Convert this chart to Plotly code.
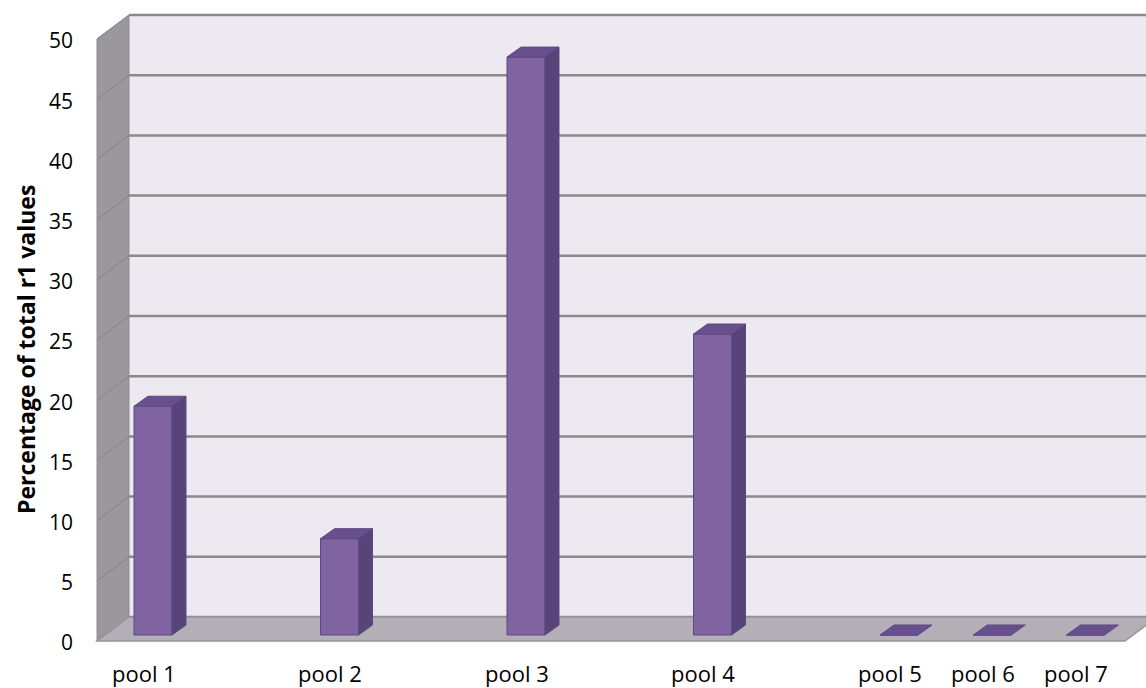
import plotly.graph_objects as go

# ---------------- data ----------------
categories = ["pool 1", "pool 2", "pool 3", "pool 4", "pool 5", "pool 6", "pool 7"]
values = [19, 8, 48, 25, 0, 0, 0]
y_ticks = [0, 5, 10, 15, 20, 25, 30, 35, 40, 45, 50]
y_title = "Percentage of total r1 values"

# ---------------- layout constants (positions / styles) ----------------
W, H = 1146, 688
PLOT_L = 80
slots = [0, 2, 4, 6, 8, 9, 10]          # category slot positions on the floor
X0_PX, SLOT_PX = 153.0, 93.25           # pixel of slot 0 centre, pixels per slot
Y0_PX, UNIT_PX = 635.0, 12.04           # pixel of value 0 (bar front plane), pixels per unit
BAR_W = 38 / SLOT_PX
DX, DY = 14 / SLOT_PX, 10 / UNIT_PX     # bar depth offset
Y_MAX = 50

x_range = [(PLOT_L - X0_PX) / SLOT_PX, (W - X0_PX) / SLOT_PX]
y_range = [(Y0_PX - H) / UNIT_PX, Y0_PX / UNIT_PX]

# wall / floor geometry (in axis units)
FRONT_DY = -6 / UNIT_PX      # floor front edge relative to bar plane
BACK_DY = 18 / UNIT_PX       # back wall base relative to bar plane
SIDE_XF = (97 - X0_PX) / SLOT_PX
SIDE_XB = (129 - X0_PX) / SLOT_PX
FLOOR_XF = (1125 - X0_PX) / SLOT_PX
FLOOR_XB = (1157 - X0_PX) / SLOT_PX

FONT = "Open Sans"
BACK_COL = "#ECE9F1"
SIDE_COL = "#9A989D"
FLOOR_COL = "#B4AFB6"
GRID_COL = "#8A8A8A"
BAR_FRONT = "#8064A2"
BAR_SIDE = "#574479"
BAR_TOP = "#67508D"
BAR_LINE = "#5C4885"

fig = go.Figure()

shapes = []
# back wall
shapes.append(dict(type="rect", xref="x", yref="y", x0=SIDE_XB, x1=FLOOR_XB,
                   y0=BACK_DY, y1=Y_MAX + BACK_DY, fillcolor=BACK_COL,
                   line=dict(width=0), layer="below"))
# side wall
shapes.append(dict(type="path", xref="x", yref="y",
                   path=f"M{SIDE_XF},{FRONT_DY} L{SIDE_XF},{Y_MAX + FRONT_DY} "
                        f"L{SIDE_XB},{Y_MAX + BACK_DY} L{SIDE_XB},{BACK_DY} Z",
                   fillcolor=SIDE_COL, line=dict(color="#8E8C90", width=1), layer="below"))
# gridlines
for v in y_ticks:
    shapes.append(dict(type="line", xref="x", yref="y", x0=SIDE_XB, x1=FLOOR_XB,
                       y0=v + BACK_DY, y1=v + BACK_DY,
                       line=dict(color=GRID_COL, width=2.5), layer="below"))
    shapes.append(dict(type="line", xref="x", yref="y", x0=SIDE_XF, x1=SIDE_XB,
                       y0=v + FRONT_DY, y1=v + BACK_DY,
                       line=dict(color="#858387", width=1), layer="below"))
# floor
shapes.append(dict(type="path", xref="x", yref="y",
                   path=f"M{SIDE_XF},{FRONT_DY} L{FLOOR_XF},{FRONT_DY} "
                        f"L{FLOOR_XB},{BACK_DY} L{SIDE_XB},{BACK_DY} Z",
                   fillcolor=FLOOR_COL, line=dict(color="#98949A", width=1.5), layer="below"))

# bar fronts
fig.add_trace(go.Bar(x=slots, y=values, width=BAR_W, base=0,
                     marker=dict(color=BAR_FRONT, line=dict(color=BAR_LINE, width=1)),
                     hoverinfo="skip", showlegend=False))

# bar sides and tops
sx, sy, tx, ty = [], [], [], []
for s, v in zip(slots, values):
    xl, xr = s - BAR_W / 2, s + BAR_W / 2
    if v > 0:
        sx += [xr, xr + DX, xr + DX, xr, xr, None]
        sy += [0, DY, v + DY, v, 0, None]
    tx += [xl, xl + DX, xr + DX, xr, xl, None]
    ty += [v, v + DY, v + DY, v, v, None]
fig.add_trace(go.Scatter(x=sx, y=sy, mode="lines", fill="toself", fillcolor=BAR_SIDE,
                         line=dict(color=BAR_LINE, width=1), hoverinfo="skip", showlegend=False))
fig.add_trace(go.Scatter(x=tx, y=ty, mode="lines", fill="toself", fillcolor=BAR_TOP,
                         line=dict(color=BAR_LINE, width=1), hoverinfo="skip", showlegend=False))

# invisible trace to activate tick-label axis
fig.add_trace(go.Scatter(x=[None], y=[None], yaxis="y2", showlegend=False, hoverinfo="skip"))

annotations = []
for s, c in zip(slots, categories):
    annotations.append(dict(x=s - 0.1, y=(H - 673) / H, xref="x", yref="paper",
                            text=c, showarrow=False, xanchor="center", yanchor="middle",
                            font=dict(family=FONT, size=22, color="black")))
annotations.append(dict(x=(26 - PLOT_L) / (W - PLOT_L), y=(H - 350) / H,
                        xref="paper", yref="paper", text=f"<b>{y_title}</b>",
                        textangle=-90, showarrow=False, xanchor="center", yanchor="middle",
                        font=dict(family=FONT, size=23, color="black")))

label_shift = 8 / UNIT_PX
fig.update_layout(
    width=W, height=H,
    margin=dict(l=PLOT_L, r=0, t=0, b=0),
    paper_bgcolor="white", plot_bgcolor="white",
    barmode="overlay",
    xaxis=dict(range=x_range, visible=False, fixedrange=True),
    yaxis=dict(range=y_range, visible=False, fixedrange=True),
    yaxis2=dict(range=[y_range[0] + label_shift, y_range[1] + label_shift],
                overlaying="y", side="left", showgrid=False, zeroline=False,
                showline=False, ticks="", tickvals=y_ticks,
                ticktext=[str(t) for t in y_ticks], ticklabelstandoff=6,
                tickfont=dict(family=FONT, size=21, color="black"), fixedrange=True),
    shapes=shapes,
    annotations=annotations,
    showlegend=False,
)

fig.write_html("out.html")
